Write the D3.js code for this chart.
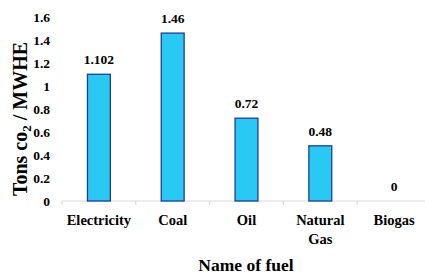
<!DOCTYPE html>
<meta charset="utf-8">
<style>
body { margin: 0; background: #fff; }
.bar { fill: #29c9f4; stroke: #1f3d96; stroke-width: 1.3; }
</style>
<body>
<script src="https://d3js.org/d3.v7.min.js"></script>
<script>

// chart data
var fuels = ["Electricity", "Coal", "Oil", "Natural Gas", "Biogas"];
var emissions = [1.102, 1.46, 0.72, 0.48, 0];
var valueLabels = ["1.102", "1.46", "0.72", "0.48", "0"];
var yTicks = [0, 0.2, 0.4, 0.6, 0.8, 1, 1.2, 1.4, 1.6];

var width = 425, height = 276;
var serif = "'Liberation Serif', 'Times New Roman', serif";

var svg = d3.select("body").append("svg")
    .attr("width", width)
    .attr("height", height)
    .style("font-family", serif)
    .style("font-weight", "bold");

// scales
var x = d3.scaleBand()
    .domain(fuels)
    .range([62, 431])
    .paddingInner(0.69)
    .paddingOuter(0.345);
var xb = d3.scaleBand().domain(fuels).range([62, 431]);
var y = d3.scaleLinear()
    .domain([0, 1.6])
    .range([201, 17]);

// x axis line and ticks at band edges
var xAxis = svg.append("g");
xAxis.append("line")
    .attr("x1", 62).attr("x2", 431)
    .attr("y1", y(0)).attr("y2", y(0))
    .attr("stroke", "#d9d9d9").attr("stroke-width", 1.2);
xAxis.selectAll(".tk")
    .data(fuels.concat(["end"]))
  .enter().append("line")
    .attr("x1", function(d, i) { return i < fuels.length ? xb(d) : xb.range()[1]; })
    .attr("x2", function(d, i) { return i < fuels.length ? xb(d) : xb.range()[1]; })
    .attr("y1", y(0)).attr("y2", y(0) + 4)
    .attr("stroke", "#d9d9d9").attr("stroke-width", 1.2);

// category labels (wrap two-word names)
xAxis.selectAll(".cat")
    .data(fuels)
  .enter().append("text")
    .attr("text-anchor", "middle")
    .style("font-family", serif)
    .style("font-size", "14.5px")
    .each(function(d) {
      var words = d.split(" ");
      var t = d3.select(this);
      words.forEach(function(w, i) {
        t.append("tspan")
          .attr("x", xb(d) + xb.bandwidth() / 2)
          .attr("y", 225 + i * 19)
          .text(w);
      });
    });

// y tick labels
svg.append("g").selectAll("text")
    .data(yTicks)
  .enter().append("text")
    .attr("x", 50)
    .attr("y", function(d) { return y(d) + 4.5; })
    .attr("text-anchor", "end")
    .style("font-family", serif)
    .style("font-size", "13.5px")
    .text(function(d) { return d; });

// bars
svg.selectAll(".bar")
    .data(emissions)
  .enter().append("rect")
    .attr("class", "bar")
    .attr("x", function(d, i) { return x(fuels[i]); })
    .attr("width", x.bandwidth())
    .attr("y", function(d) { return y(d); })
    .attr("height", function(d) { return y(0) - y(d); })
    .style("display", function(d) { return d > 0 ? null : "none"; });

// value labels
svg.selectAll(".val")
    .data(emissions)
  .enter().append("text")
    .attr("x", function(d, i) { return x(fuels[i]) + x.bandwidth() / 2; })
    .attr("y", function(d) { return y(d) - 10; })
    .attr("text-anchor", "middle")
    .style("font-family", serif)
    .style("font-size", "13.5px")
    .text(function(d, i) { return valueLabels[i]; });

// axis titles
svg.append("text")
    .attr("x", 246)
    .attr("y", 271)
    .attr("text-anchor", "middle")
    .style("font-family", serif)
    .style("font-size", "17.5px")
    .text("Name of fuel");

var yt = svg.append("text")
    .attr("transform", "translate(27,119) rotate(-90)")
    .attr("text-anchor", "middle")
    .style("font-family", serif)
    .style("font-size", "20px");
yt.append("tspan").text("Tons co");
yt.append("tspan").attr("dy", 4).style("font-size", "13px").text("2");
yt.append("tspan").attr("dy", -4).text(" / MWHE");

</script>
</body>
